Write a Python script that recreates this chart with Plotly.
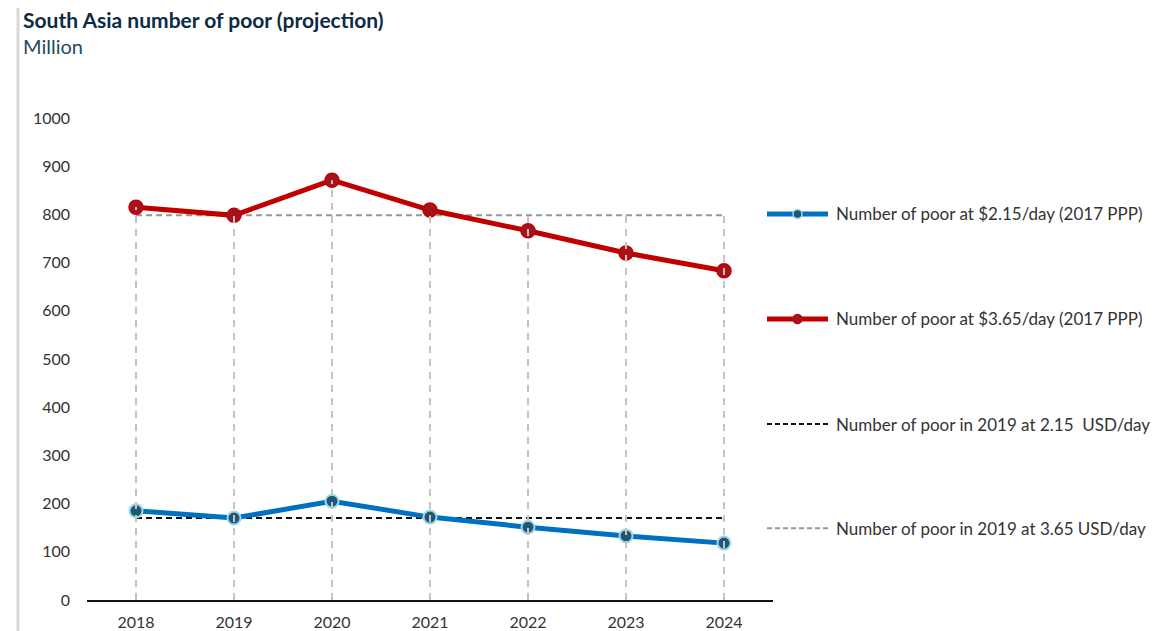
"""South Asia number of poor (projection) line chart."""
import plotly.graph_objects as go

years = ["2018", "2019", "2020", "2021", "2022", "2023", "2024"]
poor_215 = [185, 170, 205, 172, 151, 133, 118]
poor_365 = [815, 798, 871, 809, 766, 720, 683]
ref_year = "2019"

legend_labels = [
    "Number of poor at $2.15/day (2017 PPP)",
    "Number of poor at $3.65/day (2017 PPP)",
    "Number of poor in 2019 at 2.15  USD/day",
    "Number of poor in 2019 at 3.65 USD/day",
]

BLUE = "#0070c0"
RED = "#c00000"
FONT = "Lato"
TEXT = "#333333"

i_ref = years.index(ref_year)
ref_215 = [poor_215[i_ref]] * len(years)
ref_365 = [poor_365[i_ref]] * len(years)

# Excel-style drop lines: from the highest series value at each year down to 0
drop_x, drop_y = [], []
for yr, a, b in zip(years, poor_365, ref_365):
    drop_x += [yr, yr, None]
    drop_y += [0, max(a, b), None]

fig = go.Figure()
fig.add_trace(go.Scatter(
    x=years, y=ref_365, mode="lines", name=legend_labels[3], showlegend=False,
    line=dict(color="#979797", width=2, dash="6px,4px"),
))
fig.add_trace(go.Scatter(
    x=years, y=ref_215, mode="lines", name=legend_labels[2], showlegend=False,
    line=dict(color="#111111", width=2, dash="6px,4px"),
))
fig.add_trace(go.Scatter(
    x=years, y=poor_365, mode="lines+markers", name=legend_labels[1], showlegend=False,
    line=dict(color=RED, width=5),
    marker=dict(size=14, color="#a8121c", line=dict(color="#c00000", width=1.5)),
))
fig.add_trace(go.Scatter(
    x=years, y=poor_215, mode="lines+markers", name=legend_labels[0], showlegend=False,
    line=dict(color=BLUE, width=5),
    marker=dict(size=13, color="#1f5673", line=dict(color="#9fd8e6", width=2)),
))
fig.add_trace(go.Scatter(
    x=drop_x, y=drop_y, mode="lines", showlegend=False, hoverinfo="skip",
    line=dict(color="#c4c4c4", width=2, dash="7px,6px"),
))

# manual legend on the right (positions in plot-area paper units)
leg_y = [0.801, 0.583, 0.365, 0.149]
leg_styles = [
    dict(color=BLUE, width=5, dash="solid"),
    dict(color=RED, width=5, dash="solid"),
    dict(color="#111111", width=2, dash="5px,3px"),
    dict(color="#979797", width=2, dash="5px,3px"),
]
marker_fill = ["#1f5673", "#a8121c", None, None]
marker_edge = ["#9fd8e6", "#a8121c", None, None]
x0, x1 = (767 - 87) / 686, (828 - 87) / 686
for y, label, style, fill, edge in zip(leg_y, legend_labels, leg_styles, marker_fill, marker_edge):
    fig.add_shape(type="line", xref="paper", yref="paper", x0=x0, x1=x1, y0=y, y1=y,
                  line=style)
    if fill:
        xm = (x0 + x1) / 2
        fig.add_shape(type="circle", xref="paper", yref="paper",
                      x0=xm - 4.5 / 686, x1=xm + 4.5 / 686, y0=y - 4.5 / 482, y1=y + 4.5 / 482,
                      fillcolor=fill, line=dict(color=edge, width=1.5))
    fig.add_annotation(text=label, xref="paper", yref="paper", x=(834 - 87) / 686, y=y,
                       xanchor="left", yanchor="middle", showarrow=False,
                       font=dict(family=FONT, size=17, color=TEXT))

# card border on the left
fig.add_shape(type="line", xref="paper", yref="paper", x0=-69 / 686, x1=-69 / 686,
              y0=-1, y1=2, line=dict(color="#d9d9d9", width=3))

fig.add_annotation(
    text="<b>South Asia number of poor (projection)</b>", xref="paper", yref="paper",
    x=-66 / 686, y=(600 - 19) / 482, xanchor="left", yanchor="middle", showarrow=False,
    font=dict(family=FONT, size=21, color="#0d2b45"),
)
fig.add_annotation(
    text="Million", xref="paper", yref="paper",
    x=-66 / 686, y=(600 - 46) / 482, xanchor="left", yanchor="middle", showarrow=False,
    font=dict(family=FONT, size=20, color="#264a5e"),
)

# page body has an 8px margin, so the figure is 8px smaller than the window
fig.update_layout(
    width=1165, height=623,
    margin=dict(l=79, r=400, t=110, b=31, autoexpand=False),
    paper_bgcolor="white", plot_bgcolor="white",
    font=dict(family=FONT, size=16, color=TEXT),
    showlegend=False,
    xaxis=dict(
        type="category", range=[-0.5, 6.5], showgrid=False, zeroline=False,
        showline=True, linecolor="#111111", linewidth=2, automargin=False,
        ticks="", ticklabelstandoff=7, tickfont=dict(size=16, color=TEXT),
    ),
    yaxis=dict(
        range=[0, 1000], dtick=100, showgrid=False, zeroline=False, showline=False,
        automargin=False, ticks="", ticklabelstandoff=16, tickfont=dict(size=16, color=TEXT),
    ),
)

fig.write_html("out.html")
